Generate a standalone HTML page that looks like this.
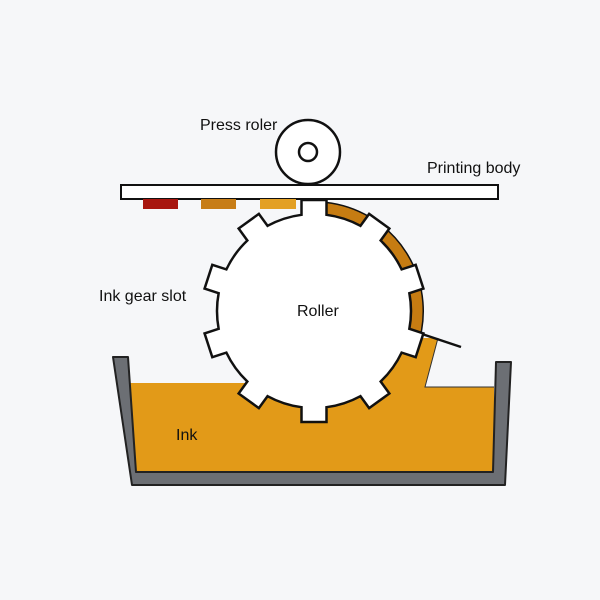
<!DOCTYPE html>
<html><head><style>
html,body{margin:0;padding:0;background:#f6f7f9;}
svg{display:block}
text{font-family:"Liberation Sans",sans-serif;font-size:16px;fill:#111}
</style></head><body>
<svg width="600" height="600" viewBox="0 0 600 600">
<rect width="600" height="600" fill="#f6f7f9"/>
<polygon points="128,383 318,383 318,338 438,338 425,387 494,387 494,473 135,473" fill="#e29a18"/>
<polyline points="438,338 425,387 494,387" fill="none" stroke="#333" stroke-width="1"/>
<polygon points="113,357 128,357 136,472 493,472 496,362 511,362 505,485 132,485" fill="#6c6f74" stroke="#222" stroke-width="2" stroke-linejoin="round"/>
<g id="g"></g>
<line x1="422" y1="334" x2="461" y2="347" stroke="#111" stroke-width="2.5"/>
<rect x="121" y="185" width="377" height="14" fill="#fff" stroke="#111" stroke-width="2"/>
<rect x="143" y="199" width="35" height="10" fill="#a8160f"/>
<rect x="201" y="199" width="35" height="10" fill="#c77d17"/>
<rect x="260" y="199" width="36" height="10" fill="#e3a024"/>
<circle cx="308" cy="152" r="32" fill="#fff" stroke="#111" stroke-width="2.5"/>
<circle cx="308" cy="152" r="9" fill="#fff" stroke="#111" stroke-width="2.5"/>
<text x="200" y="130">Press roler</text>
<text x="427" y="173">Printing body</text>
<text x="99" y="301">Ink gear slot</text>
<text x="297" y="316">Roller</text>
<text x="176" y="440">Ink</text>
</svg>
<script>
var cx=314,cy=311,R=97,T=111,hw=12.5;
var ns="http://www.w3.org/2000/svg";
function pt(r,a){a=a*Math.PI/180;return [cx+r*Math.cos(a),cy-r*Math.sin(a)];}
var g=document.getElementById("g");
var a0=84,a1=-20;
function arc(r,w,col){var e=document.createElementNS(ns,"path");
 e.setAttribute("d","M"+pt(r,a0)+" A"+r+" "+r+" 0 0 1 "+pt(r,a1));
 e.setAttribute("fill","none");e.setAttribute("stroke",col);e.setAttribute("stroke-width",w);g.appendChild(e);}
arc(103,14,"#111");arc(103,11,"#c67c12");
function P(a,along,perp){var r=a*Math.PI/180;var ux=Math.cos(r),uy=-Math.sin(r),vx=Math.sin(r),vy=Math.cos(r);
 return [cx+ux*along+vx*perp,cy+uy*along+vy*perp];}
var d="",b=Math.sqrt(R*R-hw*hw);
for(var i=0;i<10;i++){
 var a=90-36*i;
 var q1=P(a,b,-hw),q2=P(a,T,-hw),q3=P(a,T,hw),q4=P(a,b,hw);
 if(i==0){d+="M"+q1;var first=q1;}else d+=" A"+R+" "+R+" 0 0 1 "+q1;
 d+=" L"+q2+" L"+q3+" L"+q4;
}
d+=" A"+R+" "+R+" 0 0 1 "+first+"Z";
var gp=document.createElementNS(ns,"path");
gp.setAttribute("d",d);gp.setAttribute("fill","#fff");gp.setAttribute("stroke","#111");gp.setAttribute("stroke-width","2.5");
g.appendChild(gp);
</script>
</body></html>
